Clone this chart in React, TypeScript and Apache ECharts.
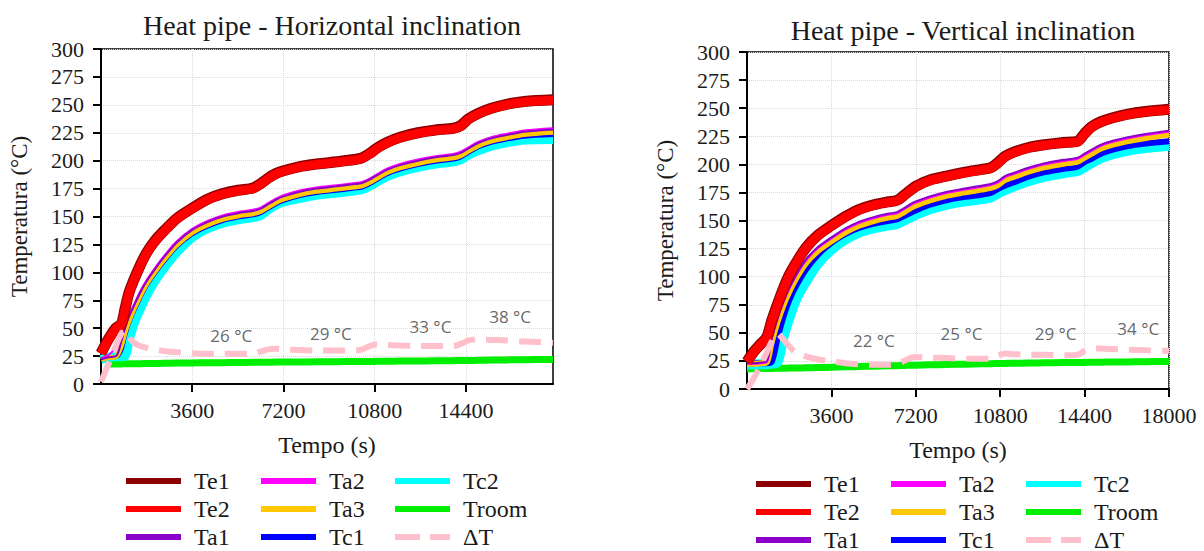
import React, { useEffect, useRef } from "react";
import * as echarts from "echarts";

// ---------- Horizontal inclination (left) ----------
const hTime = [0, 300, 600, 800, 950, 1100, 1300, 1550, 1800, 2100, 2500, 3000, 3600, 4200, 4800, 5400, 6000, 6300, 6600, 6900, 7200, 7800, 8500, 9300, 10000, 10300, 10600, 10900, 11300, 11800, 12500, 13200, 13900, 14200, 14500, 14900, 15400, 16000, 16700, 17835];
const hTe1 = [27.5, 40.5, 50.5, 53.5, 67.5, 81.5, 93.5, 106.5, 117.5, 127.5, 137.5, 148.5, 157.5, 165.5, 170.5, 173.5, 175.5, 179.5, 184.5, 188.5, 191, 194.5, 197, 199, 201, 202.5, 206.5, 211.5, 216.5, 221, 225, 227.5, 229, 231.5, 237.5, 242.5, 247, 250.5, 253, 254.5];
const hTe2 = [27, 40, 50, 53, 67, 81, 93, 106, 117, 127, 137, 148, 157, 165, 170, 173, 175, 179, 184, 188, 190.5, 194, 196.5, 198.5, 200.5, 202, 206, 211, 216, 220.5, 224.5, 227, 228.5, 231, 237, 242, 246.5, 250, 252.5, 254];
const hTa1 = [22, 24, 25, 38, 50, 60, 70, 82, 92, 102, 114, 127, 138, 145, 150, 153, 155, 157, 161, 165, 168, 172, 175, 177, 179, 180, 183, 187, 192, 196, 200, 203, 205, 207, 211, 216, 220, 223, 226, 228];
const hTa2 = [23, 26, 33, 40, 51, 61, 71, 83, 93, 103, 115, 128, 139, 146, 151, 154, 156, 158, 162, 166, 169, 173, 176, 178, 180, 181, 184, 188, 193, 197, 201, 204, 206, 208, 212, 217, 221, 224, 227, 229];
const hTa3 = [22, 23.5, 24.5, 34, 46, 56, 67, 79, 89.5, 99.5, 111.5, 124.5, 135.5, 142.5, 147.5, 150.5, 152.5, 154.5, 158.5, 162.5, 165.5, 169.5, 172.5, 174.5, 176.5, 177.5, 180.5, 184.5, 189.5, 193.5, 197.5, 200.5, 202.5, 204.5, 208.5, 213.5, 217.5, 220.5, 223.5, 225.5];
const hTc1 = [22, 23.5, 24, 30, 43, 54, 65, 77, 88, 98, 110, 123, 134, 141, 146, 149, 151, 153, 157, 161, 164, 168, 171, 173, 175, 176, 179, 183, 188, 192, 196, 199, 201, 203, 207, 212, 216, 219, 221.5, 223];
const hTc2 = [22, 24, 24.5, 24.5, 25, 38, 54, 67, 79, 91, 104, 118, 131, 139, 144, 147, 149, 151, 156, 160, 163, 166, 169, 171, 173, 174, 177, 181, 186, 190, 194, 197, 199, 201, 205, 209, 213, 216, 218.5, 219];
const hTroom = [null, 18, 18, 18, 18.1, 18.1, 18.2, 18.2, 18.3, 18.4, 18.5, 18.7, 18.9, 19, 19.1, 19.2, 19.4, 19.4, 19.5, 19.6, 19.6, 19.7, 19.9, 20, 20.1, 20.2, 20.2, 20.3, 20.4, 20.5, 20.6, 20.8, 20.9, 21, 21.1, 21.2, 21.4, 21.6, 21.8, 22];
const hDT = [2, 18, 35, 45, 48, 42, 37, 34, 32.5, 31, 29.5, 28.5, 27.5, 27, 27, 27, 27, 29, 31, 31.5, 31, 30.5, 30, 30, 30, 31, 34, 35.5, 35, 34.5, 34, 34, 34, 36, 39, 40, 39.5, 39, 38, 37];
const hNoteTimes = [5139, 9069, 12999, 16143];
const hNoteTemps = [43.5, 45.3, 51.8, 60.2];
const hNoteTexts = ["26 °C", "29 °C", "33 °C", "38 °C"];

// ---------- Vertical inclination (right) ----------
const vTime = [0, 300, 600, 850, 1050, 1300, 1550, 1800, 2100, 2500, 3000, 3600, 4200, 4800, 5400, 6000, 6400, 6700, 7000, 7200, 7800, 8500, 9300, 10000, 10400, 10700, 11000, 11400, 12000, 12700, 13500, 14100, 14400, 14700, 15100, 15600, 16200, 17000, 18000];
const vTe1 = [24.5, 33.5, 40.5, 46.5, 60.5, 75.5, 89.5, 101.5, 112.5, 125.5, 136.5, 145.5, 153.5, 160, 164, 166.5, 168, 172.5, 177.5, 180.5, 186, 189.5, 193, 195.5, 197, 201.5, 207, 211, 215, 217.5, 219.5, 220.5, 227.5, 233.5, 238, 241.5, 244.5, 247, 249];
const vTe2 = [24, 33, 40, 46, 60, 75, 89, 101, 112, 125, 136, 145, 153, 159.5, 163.5, 166, 167.5, 172, 177, 180, 185.5, 189, 192.5, 195, 196.5, 201, 206.5, 210.5, 214.5, 217, 219, 220, 227, 233, 237.5, 241, 244, 246.5, 248.5];
const vTa1 = [23, 23, 23.5, 25, 45, 63, 78, 90, 102, 115, 126, 135, 143, 149, 153, 156, 157.5, 161, 165, 167, 171.5, 175.5, 178.5, 181, 182.5, 185, 189.5, 192.5, 197, 201, 204, 206, 209.5, 213, 217.5, 221, 224, 227, 230];
const vTa2 = [22.5, 22.5, 23, 24, 44, 62, 77, 89, 101, 114, 125, 134, 142, 148, 152, 155, 156.5, 160, 164, 166, 170.5, 174.5, 177.5, 180, 181.5, 184, 188.5, 191.5, 196, 200, 203, 205, 208.5, 212, 216.5, 220, 223, 226, 229];
const vTa3 = [22.5, 22.5, 23, 24, 41.5, 59.5, 74.5, 86.5, 98.5, 111.5, 122.5, 131.5, 139.5, 145.5, 149.5, 152.5, 154, 157.5, 161.5, 163.5, 168, 172, 175, 177.5, 179, 181.5, 186, 189, 193.5, 197.5, 200.5, 202.5, 206, 209.5, 214, 217.5, 220.5, 223.5, 226.5];
const vTc1 = [23, 23, 23, 23, 24, 45, 64, 79, 92, 106, 119, 130, 138, 143.5, 147, 149.5, 151, 154, 157, 159, 164, 168, 171, 173, 174.5, 178, 181, 184, 189, 193, 196, 198, 202, 205, 209.5, 213, 216, 218.5, 220.5];
const vTc2 = [22, 22, 22, 22, 22.5, 24, 46, 63, 80, 95, 111, 124, 133, 139.5, 143, 145.5, 147, 150, 153, 155, 160, 164, 167, 169, 170.5, 174, 177, 180.5, 185, 189, 192, 194, 197.5, 201, 205.5, 209, 212, 214.5, 216.5];
const vTroom = [18, 18.1, 18.2, 18.3, 18.3, 18.4, 18.5, 18.6, 18.7, 18.9, 19.1, 19.4, 19.7, 20, 20.3, 20.6, 20.8, 21, 21.1, 21.2, 21.5, 21.8, 22.1, 22.4, 22.5, 22.7, 22.8, 22.9, 23.1, 23.3, 23.5, 23.6, 23.7, 23.8, 23.9, 24, 24.1, 24.3, 24.5];
const vDT = [0, 10, 22, 33, 42, 49.5, 44, 38, 32, 29, 26.5, 24.5, 23, 22, 21.5, 21.5, 22, 25, 28, 28.5, 28, 27.5, 27, 27, 27.5, 30, 31.5, 31, 30.5, 30.5, 30, 30.5, 34, 36, 36, 35.5, 35, 34.5, 34];
const vNoteTimes = [5410, 9148, 13164, 16689];
const vNoteTemps = [43, 49, 49, 53.6];
const vNoteTexts = ["22 °C", "25 °C", "29 °C", "34 °C"];

const yTicks = [0, 25, 50, 75, 100, 125, 150, 175, 200, 225, 250, 275, 300];
const hXTicks = [3600, 7200, 10800, 14400];
const vXTicks = [3600, 7200, 10800, 14400, 18000];
const titles = ["Heat pipe - Horizontal inclination", "Heat pipe - Vertical inclination"];
const legendColumns = [
  ["Te1", "Te2", "Ta1"],
  ["Ta2", "Ta3", "Tc1"],
  ["Tc2", "Troom", "ΔT"],
];

const SERIF = "'Liberation Serif', 'Times New Roman', serif";
const TXT = "#1a1a1a";

type Style = { color: string; width: number; dash?: number[] };
const styles: Record<string, Style> = {
  Troom: { color: "#00ee00", width: 7 },
  Tc2: { color: "#00ffff", width: 9 },
  Tc1: { color: "#0000ff", width: 4 },
  Ta3: { color: "#ffc800", width: 5 },
  Ta2: { color: "#ff00ff", width: 2 },
  Ta1: { color: "#8a00c8", width: 2 },
  Te1: { color: "#8b0000", width: 11 },
  Te2: { color: "#ff0000", width: 9 },
  "ΔT": { color: "#ffc0cb", width: 6, dash: [22, 11] },
};
const vWidths: Record<string, number> = { Tc2: 10, Tc1: 6, Ta3: 6, Ta2: 2, Ta1: 2 };

const drawOrder = ["Troom", "Tc2", "Tc1", "Ta3", "Ta2", "Ta1", "Te1", "Te2", "ΔT"];

function buildSeries(
  idx: number,
  time: number[],
  data: Record<string, (number | null)[]>,
  noteT: number[],
  noteY: number[],
  noteTxt: string[],
  wOverride: Record<string, number>
) {
  const out: any[] = drawOrder.map((name) => {
    const s = styles[name];
    return {
      type: "line",
      name,
      xAxisIndex: idx,
      yAxisIndex: idx,
      data: time.map((t, i) => [t, data[name][i]]),
      showSymbol: false,
      symbol: "none",
      smooth: 0.3,
      connectNulls: false,
      silent: true,
      lineStyle: {
        color: s.color,
        width: wOverride[name] ?? s.width,
        type: s.dash ? s.dash : "solid",
        cap: "butt",
        join: "round",
      },
      itemStyle: { color: s.color },
      z: 2,
    };
  });
  out.push({
    type: "scatter",
    name: "notes" + idx,
    xAxisIndex: idx,
    yAxisIndex: idx,
    symbolSize: 0,
    silent: true,
    data: noteT.map((t, i) => ({ value: [t, noteY[i]], name: noteTxt[i] })),
    label: {
      show: true,
      position: "inside",
      formatter: "{b}",
      fontFamily: "'Open Sans', sans-serif",
      fontSize: 17,
      color: "#404040",
    },
    z: 5,
  });
  return out;
}

const grids = [
  { left: 101, top: 49, width: 452, height: 335 },
  { left: 747, top: 52, width: 422, height: 337 },
];

function xAxisFor(idx: number, max: number, ticks: number[]) {
  return {
    type: "value",
    gridIndex: idx,
    min: 0,
    max,
    name: "Tempo (s)",
    nameLocation: "middle",
    nameGap: 49,
    nameTextStyle: { fontFamily: SERIF, fontSize: 24, fontWeight: "normal", color: TXT },
    axisLine: { show: true, onZero: false, lineStyle: { color: "#000", width: 2 } },
    axisTick: {
      show: true,
      customValues: ticks,
      length: 8,
      inside: false,
      lineStyle: { color: "#000", width: 2 },
    },
    axisLabel: {
      customValues: ticks,
      margin: 15,
      fontFamily: SERIF,
      fontSize: 22,
      color: TXT,
      formatter: (v: number) => String(v),
    },
    splitLine: {
      show: true,
      customValues: ticks,
      lineStyle: { color: "#d9d9d9", type: "dotted", width: 1 },
    },
  };
}

function yAxisFor(idx: number) {
  return {
    type: "value",
    gridIndex: idx,
    min: 0,
    max: 300,
    interval: 25,
    name: "Temperatura (°C)",
    nameLocation: "middle",
    nameGap: 70,
    nameTextStyle: { fontFamily: SERIF, fontSize: 23, fontWeight: "normal", color: TXT },
    axisLine: { show: true, onZero: false, lineStyle: { color: "#000", width: 2 } },
    axisTick: { show: true, length: 8, lineStyle: { color: "#000", width: 2 } },
    axisLabel: {
      margin: 17,
      fontFamily: SERIF,
      fontSize: 22,
      color: TXT,
      customValues: yTicks,
      formatter: (v: number) => String(v),
    },
    splitLine: { show: true, lineStyle: { color: "#d9d9d9", type: "dotted", width: 1 } },
  };
}

function legendsFor(lefts: number[], top: number) {
  return legendColumns.map((col, ci) => ({
    orient: "vertical",
    left: lefts[ci],
    top,
    padding: 0,
    itemGap: 4,
    itemWidth: 55,
    itemHeight: 1,
    selectedMode: false,
    data: col.map((name) =>
      name === "ΔT" ? { name, lineStyle: { type: [25, 10] } } : { name }
    ),
    lineStyle: { width: 6 },
    itemStyle: { opacity: 0 },
    textStyle: {
      fontFamily: SERIF,
      fontSize: 24,
      lineHeight: 23,
      color: TXT,
      padding: [0, 0, 0, 8],
    },
  }));
}

const option: any = {
  animation: false,
  backgroundColor: "#ffffff",
  textStyle: { fontFamily: SERIF },
  title: [
    {
      text: titles[0],
      left: 327,
      top: 6,
      textAlign: "center",
      textStyle: { fontFamily: SERIF, fontSize: 28, fontWeight: "normal", color: TXT },
    },
    {
      text: titles[1],
      left: 958,
      top: 11,
      textAlign: "center",
      textStyle: { fontFamily: SERIF, fontSize: 28, fontWeight: "normal", color: TXT },
    },
  ],
  grid: grids.map((g) => ({
    ...g,
    show: true,
    borderColor: "#000",
    borderWidth: 1.5,
    backgroundColor: "transparent",
    containLabel: false,
  })),
  xAxis: [xAxisFor(0, 17835, hXTicks), xAxisFor(1, 18000, vXTicks)],
  yAxis: [yAxisFor(0), yAxisFor(1)],
  legend: [...legendsFor([123, 258, 392], 469), ...legendsFor([753, 888, 1023], 472)],
  series: [
    ...buildSeries(
      0,
      hTime,
      { Te1: hTe1, Te2: hTe2, Ta1: hTa1, Ta2: hTa2, Ta3: hTa3, Tc1: hTc1, Tc2: hTc2, Troom: hTroom, "ΔT": hDT },
      hNoteTimes,
      hNoteTemps,
      hNoteTexts,
      {}
    ),
    ...buildSeries(
      1,
      vTime,
      { Te1: vTe1, Te2: vTe2, Ta1: vTa1, Ta2: vTa2, Ta3: vTa3, Tc1: vTc1, Tc2: vTc2, Troom: vTroom, "ΔT": vDT },
      vNoteTimes,
      vNoteTemps,
      vNoteTexts,
      vWidths
    ),
  ],
};

export default function App() {
  const ref = useRef<HTMLDivElement>(null);
  useEffect(() => {
    if (!ref.current) return;
    const chart = echarts.init(ref.current, null, { renderer: "svg" });
    chart.setOption(option);
    return () => chart.dispose();
  }, []);
  return (
    <div
      ref={ref}
      style={{ position: "fixed", left: 0, top: 0, width: 1204, height: 620, background: "#fff" }}
    />
  );
}
